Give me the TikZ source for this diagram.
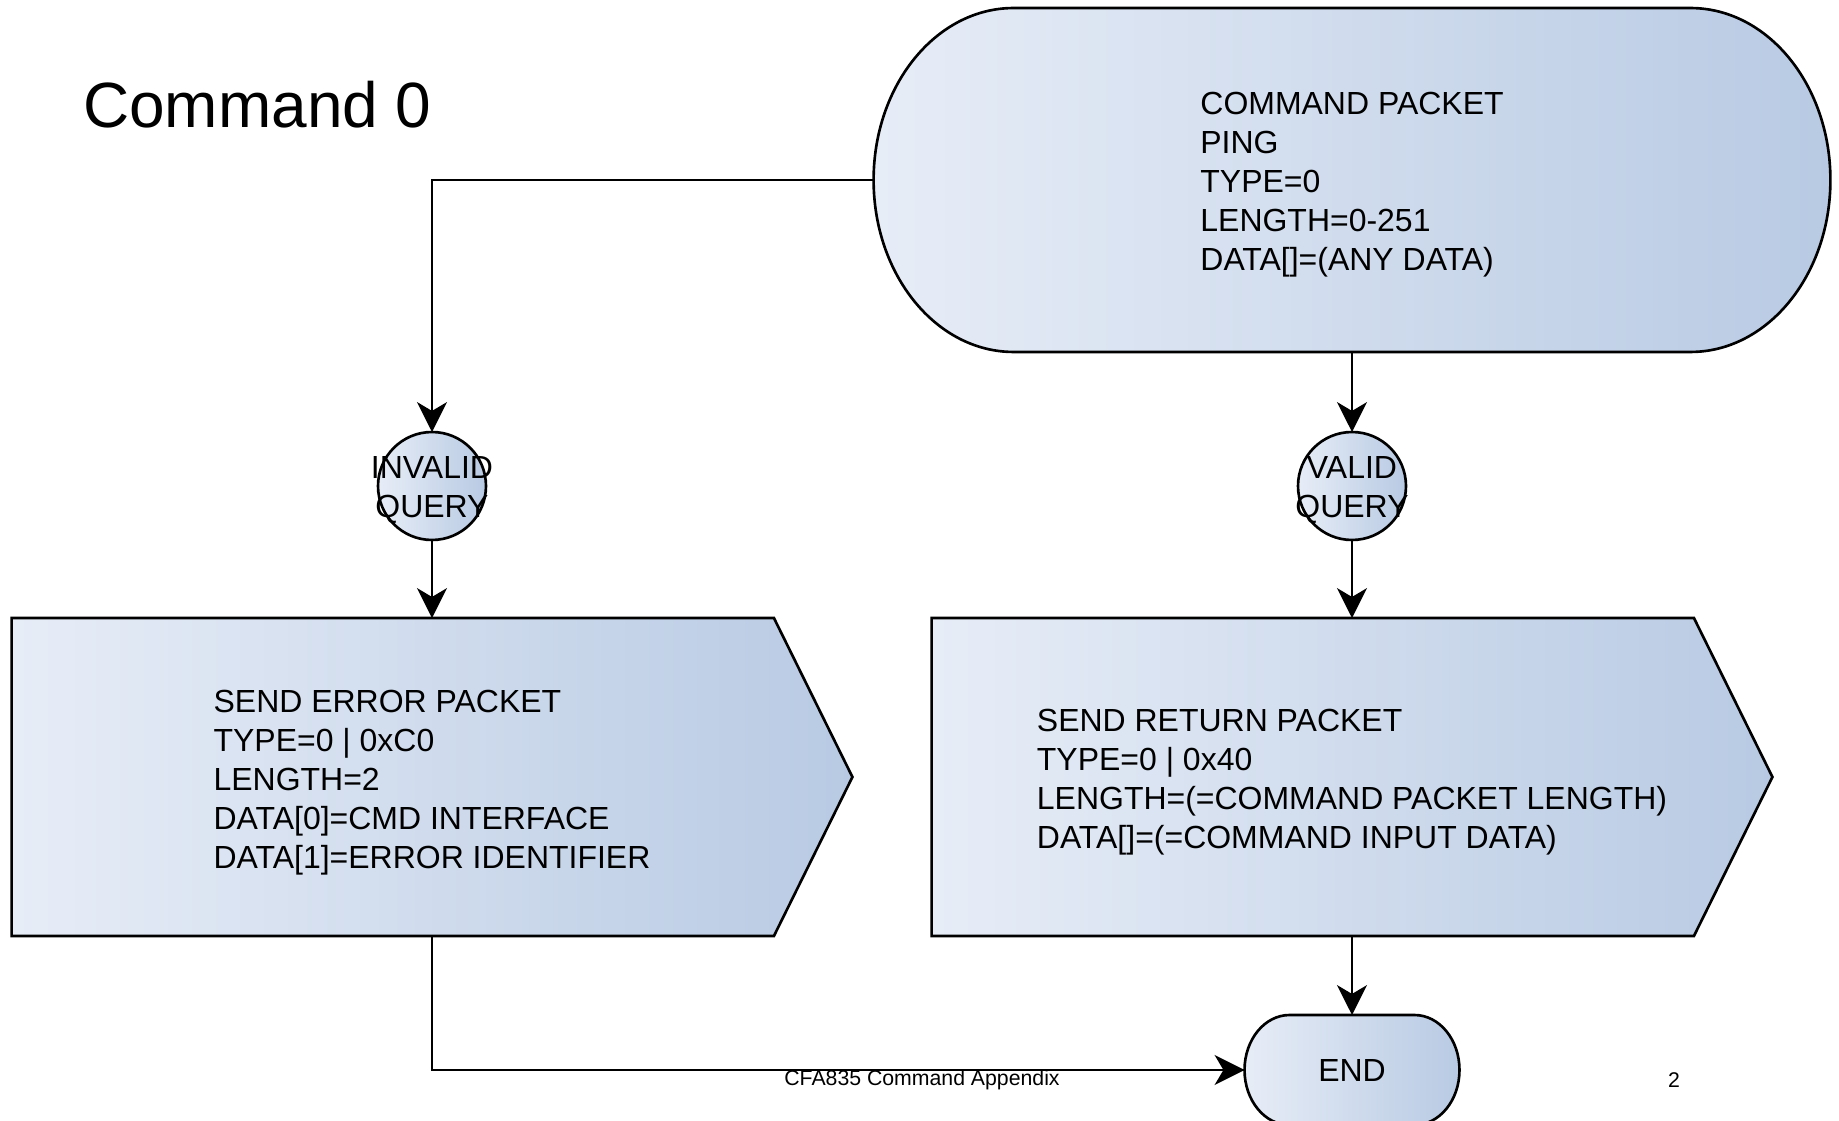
\documentclass[tikz,border=0pt]{standalone}
\usepackage{fontspec}
\setmainfont{Liberation Sans}
\usepackage{tikz}
\usetikzlibrary{arrows.meta, positioning}
\pgfdeclarelayer{background}
\pgfsetlayers{background,main}
\definecolor{shadeleft}{HTML}{E7EDF7}
\definecolor{shaderight}{HTML}{B8CAE3}
\tikzset{
  boxfont/.style={font=\fontsize{18.2}{22.2}\selectfont},
  footfont/.style={font=\fontsize{12.1}{14}\selectfont},
  shapefill/.style={left color=shadeleft, right color=shaderight, draw=black, line width=1.5pt},
  holder/.style={inner sep=0pt, outer sep=0pt},
  holdtext/.style={boxfont, align=left, yshift=-0.1cm},
  query/.style={circle, shapefill, minimum size=2.16cm, inner sep=0pt, outer sep=0pt},
  flow/.style={->, line width=1.5pt}
}

\begin{document}
\begin{tikzpicture}[x=0.02cm, y=0.02cm, >={Stealth[length=17pt, width=17pt, inset=5pt]}]
\useasboundingbox (0,0) rectangle (1839,-1121);

\node [anchor=base west, font=\fontsize{36.4}{40}\selectfont] (title) at (77,-128) {Command 0};

\node [holder, minimum width=19.14cm, minimum height=6.88cm,
  label={[holdtext]center:COMMAND PACKET\\PING\\TYPE=0\\LENGTH=0-251\\DATA[]=(ANY DATA)}] (cmd) at (1352,-180) {};
\node [query, label={[boxfont, align=center, yshift=-0.08cm]center:INVALID\\QUERY}] (inv) at (432,-486) {};
\node [query, label={[boxfont, align=center, yshift=-0.08cm]center:VALID\\QUERY}] (val) at (1352,-486) {};
\node [holder, minimum width=16.82cm, minimum height=6.36cm,
  label={[holdtext, yshift=-0.02cm]center:SEND ERROR PACKET\\TYPE=0 | 0xC0\\LENGTH=2\\DATA[0]=CMD INTERFACE\\DATA[1]=ERROR IDENTIFIER}] (err) at (432,-777) {};
\node [holder, minimum width=16.82cm, minimum height=6.36cm,
  label={[holdtext]center:SEND RETURN PACKET\\TYPE=0 | 0x40\\LENGTH=(=COMMAND PACKET LENGTH)\\DATA[]=(=COMMAND INPUT DATA)}] (ret) at (1352,-777) {};
\node [holder, boxfont, minimum width=4.3cm, minimum height=2.2cm] (done) at (1352,-1070) {END};

\node [footfont, anchor=base] (foot) at (922,-1085) {CFA835 Command Appendix};
\node [footfont, anchor=base] (page) at (1674,-1087) {2};

% outlines behind the texts
\begin{pgfonlayer}{background}
\path [shapefill] ([xshift=2.8cm]cmd.north west) -- ([xshift=-2.8cm]cmd.north east)
  arc [start angle=90, end angle=-90, x radius=2.8cm, y radius=3.44cm]
  -- ([xshift=2.8cm]cmd.south west)
  arc [start angle=270, end angle=90, x radius=2.8cm, y radius=3.44cm] -- cycle;
\path [shapefill] (err.north west) -- ([xshift=-1.57cm]err.north east) -- (err.east)
  -- ([xshift=-1.57cm]err.south east) -- (err.south west) -- cycle;
\path [shapefill] (ret.north west) -- ([xshift=-1.57cm]ret.north east) -- (ret.east)
  -- ([xshift=-1.57cm]ret.south east) -- (ret.south west) -- cycle;
\path [shapefill] ([xshift=0.9cm]done.north west) -- ([xshift=-0.9cm]done.north east)
  arc [start angle=90, end angle=-90, x radius=0.9cm, y radius=1.1cm]
  -- ([xshift=0.9cm]done.south west)
  arc [start angle=270, end angle=90, x radius=0.9cm, y radius=1.1cm] -- cycle;
\end{pgfonlayer}

\draw [flow] (cmd.west) -| (inv.north);
\draw [flow] (cmd.south) -- (val.north);
\draw [flow] (inv.south) -- (err.north);
\draw [flow] (val.south) -- (ret.north);
\draw [flow] (ret.south) -- (done.north);
\draw [flow] (err.south) |- (done.west);
\end{tikzpicture}
\end{document}
